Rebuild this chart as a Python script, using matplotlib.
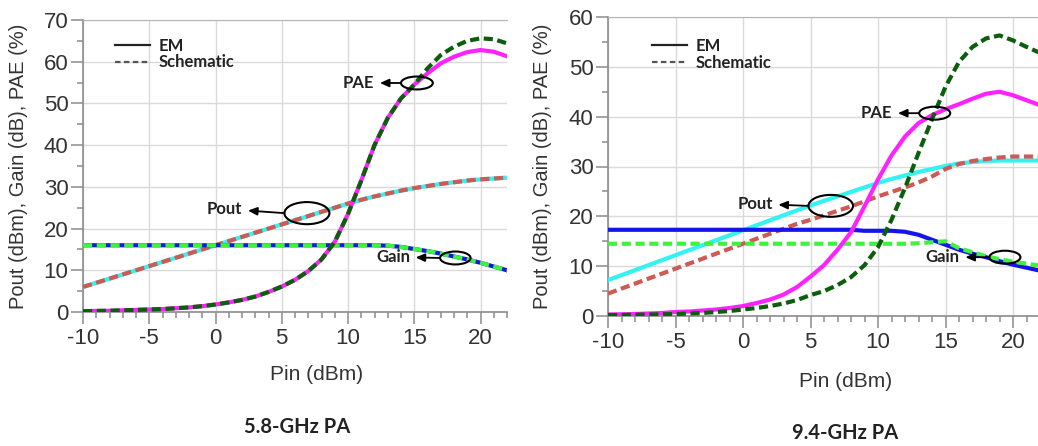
import matplotlib.pyplot as plt
from matplotlib.lines import Line2D
from matplotlib.patches import Ellipse
from matplotlib.ticker import MultipleLocator

plt.rcParams['font.family'] = ['Liberation Sans', 'DejaVu Sans']
plt.rcParams['axes.unicode_minus'] = False

# Pin (dBm), passo de 1 dBm
pin = list(range(-10, 23))

# 5.8-GHz PA
pout_em_58 = [6, 7, 8, 9, 10, 11, 12, 13, 14, 15, 16, 17, 18, 19, 20, 21, 22, 23, 24,
              25.0, 26.0, 26.9, 27.7, 28.4, 29.1, 29.7, 30.2, 30.7, 31.1, 31.5, 31.8, 32.0, 32.2]
pout_sch_58 = pout_em_58
gain_em_58 = [16] * 23 + [15.9, 15.6, 15.1, 14.6, 14.0, 13.3, 12.6, 11.8, 10.9, 10.0]
gain_sch_58 = gain_em_58
pae_em_58 = [0.2, 0.25, 0.3, 0.4, 0.5, 0.6, 0.7, 0.9, 1.1, 1.4, 1.8, 2.3, 2.9, 3.7, 4.8, 6.1,
             7.7, 9.8, 12.6, 16.8, 23.5, 31.5, 40.0, 46.5, 51.2, 54.5, 57.2, 59.6, 61.2, 62.3,
             62.8, 62.4, 61.3]
pae_sch_58 = pae_em_58[:26] + [58.4, 61.6, 63.6, 65.0, 65.6, 65.4, 64.4]

# 9.4-GHz PA
pout_em_94 = [7.2, 8.2, 9.2, 10.2, 11.2, 12.2, 13.2, 14.2, 15.2, 16.2, 17.2, 18.2, 19.2, 20.2,
              21.2, 22.2, 23.1, 24.0, 24.9, 25.8, 26.7, 27.5, 28.2, 28.9, 29.5, 30.1, 30.6,
              30.9, 31.1, 31.2, 31.2, 31.2, 31.2]
pout_sch_94 = [4.5, 5.5, 6.5, 7.5, 8.5, 9.5, 10.5, 11.5, 12.5, 13.5, 14.5, 15.5, 16.5, 17.5,
               18.5, 19.3, 20.2, 21.1, 22.0, 23.0, 24.0, 24.9, 25.8, 26.8, 28.0, 29.5, 30.5,
               31.1, 31.5, 31.8, 32.0, 32.0, 32.0]
gain_em_94 = [17.3] * 19 + [17.1, 17.1, 17.1, 16.9, 16.3, 15.3, 14.3, 13.3, 12.5, 11.8, 11.0,
                            10.3, 9.7, 9.1]
gain_sch_94 = [14.5] * 23 + [14.6, 14.8, 15.0, 13.6, 12.8, 12.0, 11.4, 10.9, 10.5, 10.1]
pae_em_94 = [0.3, 0.35, 0.4, 0.5, 0.6, 0.8, 0.9, 1.1, 1.3, 1.6, 2.0, 2.6, 3.3, 4.3, 5.8, 7.9,
             10.2, 13.3, 16.8, 22.0, 27.4, 32.2, 36.0, 38.7, 40.3, 41.5, 42.5, 43.6, 44.6,
             45.0, 44.3, 43.3, 42.3]
pae_sch_94 = [0.2, 0.2, 0.25, 0.3, 0.35, 0.4, 0.5, 0.6, 0.8, 1.0, 1.3, 1.6, 2.0, 2.5, 3.2, 4.2,
              5.0, 6.2, 7.8, 10.2, 13.8, 19.3, 25.7, 32.7, 39.5, 46.0, 51.0, 54.0, 55.7, 56.3,
              55.3, 54.0, 52.8]

# anotações: (texto, centro do texto, centro da elipse, largura, altura)
notes_58 = [('PAE', (10.8, 54.9), (15.2, 54.9), 2.4, 3.1),
            ('Pout', (0.7, 24.7), (6.9, 23.7), 3.4, 5.3),
            ('Gain', (13.4, 13.2), (18.1, 12.95), 2.3, 3.1)]
notes_94 = [('PAE', (9.9, 40.7), (14.2, 40.7), 2.3, 2.6),
            ('Pout', (0.9, 22.5), (6.5, 22.1), 3.3, 4.4),
            ('Gain', (14.8, 11.8), (19.4, 11.8), 2.3, 2.6)]

DASH = (2.2, 1.1)
LW = 3


def draw_panel(ax, ymax, pout_em, pout_sch, gain_em, gain_sch, pae_em, pae_sch, notes,
               leg_xy, xlab_y):
    ax.plot(pin, pout_em, color='#33f2f2', lw=LW, zorder=3)
    ax.plot(pin, pout_sch, color='#cd5a55', lw=LW, dashes=DASH, zorder=3)
    ax.plot(pin, gain_em, color='#1515e8', lw=LW, zorder=3)
    ax.plot(pin, gain_sch, color='#3ef23e', lw=LW, dashes=DASH, zorder=3)
    ax.plot(pin, pae_em, color='#ff22ff', lw=LW, zorder=3)
    ax.plot(pin, pae_sch, color='#0b5e0b', lw=LW, dashes=DASH, zorder=3)

    ax.set_xlim(-10, 22)
    ax.set_ylim(0, ymax)
    ax.xaxis.set_major_locator(MultipleLocator(5))
    ax.xaxis.set_minor_locator(MultipleLocator(1))
    ax.yaxis.set_major_locator(MultipleLocator(10))
    ax.yaxis.set_minor_locator(MultipleLocator(5))
    ax.grid(True, which='major', color='#dadada', lw=1)
    ax.set_axisbelow(True)
    for s in ['left', 'bottom']:
        ax.spines[s].set_color('#8c8c8c')
        ax.spines[s].set_linewidth(1.2)
    ax.spines['top'].set_color('#b5b5b5')
    ax.spines['right'].set_visible(False)
    ax.tick_params(which='major', length=8.5, color='#8c8c8c', width=1.1,
                   labelsize=16, labelcolor='#333333', pad=2)
    ax.tick_params(which='minor', length=4.3, color='#8c8c8c', width=1.1)
    ax.tick_params(axis='x', which='major', pad=3)
    ax.tick_params(top=False, right=False, which='both')

    ax.set_xlabel('Pin (dBm)', fontsize=15, color='#333333')
    ax.set_ylabel('Pout (dBm), Gain (dB), PAE (%)', fontsize=14.5, color='#333333')
    ax.xaxis.set_label_coords(0.55, xlab_y)
    ax.yaxis.set_label_coords(-0.13, 0.5)

    # legenda EM / Schematic
    handles = [Line2D([], [], color='#222222', lw=1.6),
               Line2D([], [], color='#555555', lw=1.6, dashes=(2.5, 1.5))]
    leg = ax.legend(handles, ['EM', 'Schematic'], loc='upper left', bbox_to_anchor=leg_xy,
                    frameon=False, handlelength=2.1, handletextpad=0.5, labelspacing=0.05,
                    borderpad=0, borderaxespad=0,
                    prop={'family': 'Lato', 'weight': 'bold', 'size': 12})
    for t in leg.get_texts():
        t.set_color('#222222')

    # elipses e setas
    for label, txy, exy, w, h in notes:
        ax.add_patch(Ellipse(exy, w, h, fill=False, ec='black', lw=1.5, zorder=5))
        ax.annotate(label, xy=(exy[0] - w / 2, exy[1]), xytext=txy,
                    ha='center', va='center', fontsize=12, family='Lato',
                    weight='bold', color='#222222', zorder=6,
                    arrowprops=dict(arrowstyle='<|-,head_length=0.45,head_width=0.2',
                                    color='black', lw=1.3, shrinkA=2, shrinkB=0))


fig = plt.figure(figsize=(10.38, 4.46), dpi=100)
ax1 = fig.add_axes([83 / 1038, (446 - 312) / 446, 424 / 1038, 292 / 446])
ax2 = fig.add_axes([608 / 1038, (446 - 316) / 446, 432 / 1038, 299 / 446])

draw_panel(ax1, 70, pout_em_58, pout_sch_58, gain_em_58, gain_sch_58,
           pae_em_58, pae_sch_58, notes_58, (0.075, 0.94), -0.18)
draw_panel(ax2, 60, pout_em_94, pout_sch_94, gain_em_94, gain_sch_94,
           pae_em_94, pae_sch_94, notes_94, (0.102, 0.93), -0.187)

fig.text(297 / 1038, 1 - 427 / 446, '5.8-GHz PA', ha='center', va='center',
         fontsize=14.5, family='Lato', weight='bold', color='#222222')
fig.text(845 / 1038, 1 - 433 / 446, '9.4-GHz PA', ha='center', va='center',
         fontsize=14.5, family='Lato', weight='bold', color='#222222')

fig.savefig('out.png', dpi=100)
